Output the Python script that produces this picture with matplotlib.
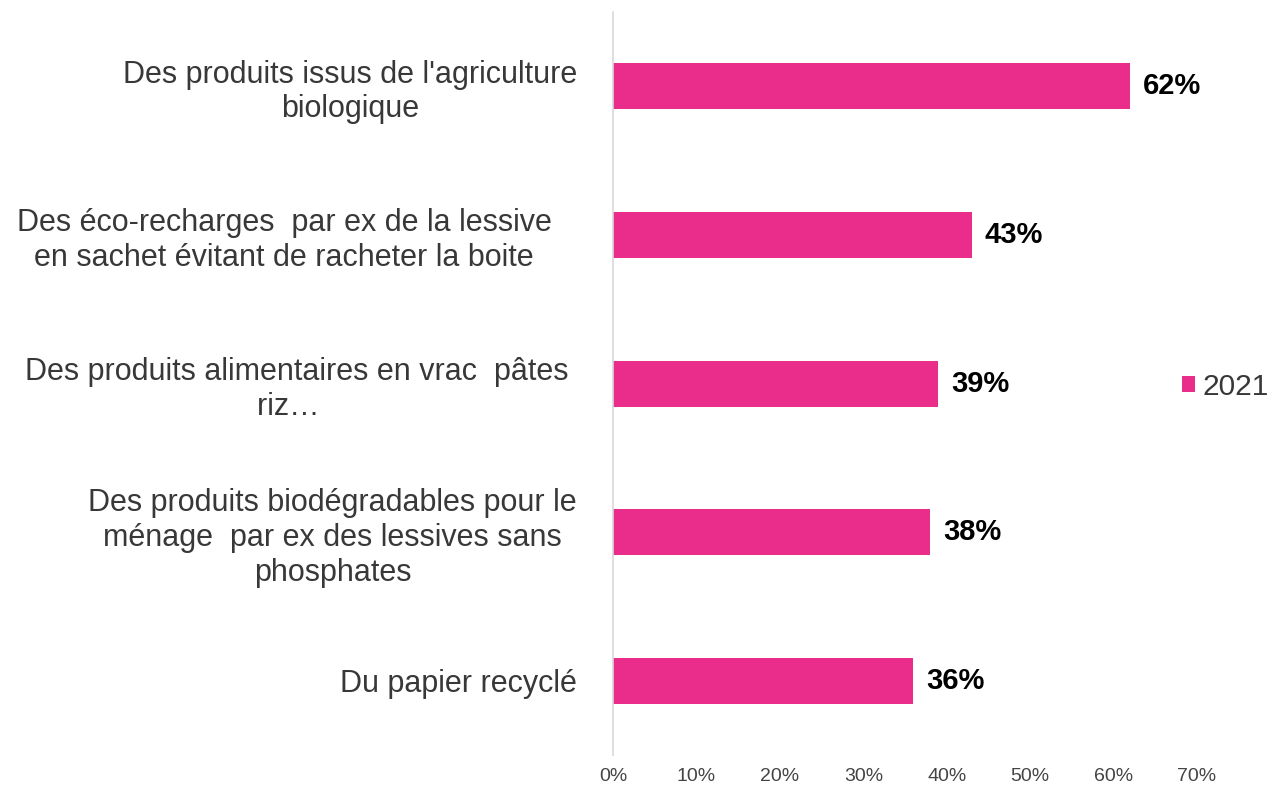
import matplotlib.pyplot as plt
import numpy as np

plt.rcParams["font.family"] = ["Liberation Sans", "DejaVu Sans"]

categories = [
    "Des produits issus de l'agriculture\nbiologique",
    "Des éco-recharges  par ex de la lessive   \nen sachet évitant de racheter la boite   ",
    "Des produits alimentaires en vrac  pâtes \nriz…   ",
    "Des produits biodégradables pour le\nménage  par ex des lessives sans\nphosphates",
    "Du papier recyclé",
]
values = [62, 43, 39, 38, 36]
series_name = "2021"
xticks = [0, 10, 20, 30, 40, 50, 60, 70]

color = "#EA2C8B"

fig = plt.figure(figsize=(12.72, 7.86), dpi=100)
ax = fig.add_axes([0.482, 0.039, 0.459, 0.946])

y = np.arange(len(categories))
bars = ax.barh(y, values, height=0.31, color=color, label=series_name)

for yi, v in zip(y, values):
    ax.text(v + 1.55, yi, f"{v}%", va="center", ha="left",
            fontsize=21, fontweight="bold", color="black")

ax.set_ylim(len(categories) - 0.5, -0.5)
ax.set_xlim(0, 70)
ax.set_yticks(y)
ax.set_yticklabels(categories, fontsize=22, color="#383838",
                   multialignment="center", linespacing=1.2)
ax.set_xticks(xticks)
ax.set_xticklabels([f"{t}%" for t in xticks], fontsize=14, color="#444444")

ax.tick_params(axis="y", length=0, pad=26)
ax.tick_params(axis="x", length=0, pad=9)

for s in ["top", "right", "bottom"]:
    ax.spines[s].set_visible(False)
ax.spines["left"].set_color("#D9D9D9")
ax.spines["left"].set_linewidth(1.2)

leg = fig.legend(loc="center left", bbox_to_anchor=(0.929, 0.508), frameon=False,
                 fontsize=21.5, handlelength=0.45, handleheight=0.45,
                 handletextpad=0.25, borderpad=0, borderaxespad=0)
for t in leg.get_texts():
    t.set_color("#383838")

fig.savefig("out.png", dpi=100)
